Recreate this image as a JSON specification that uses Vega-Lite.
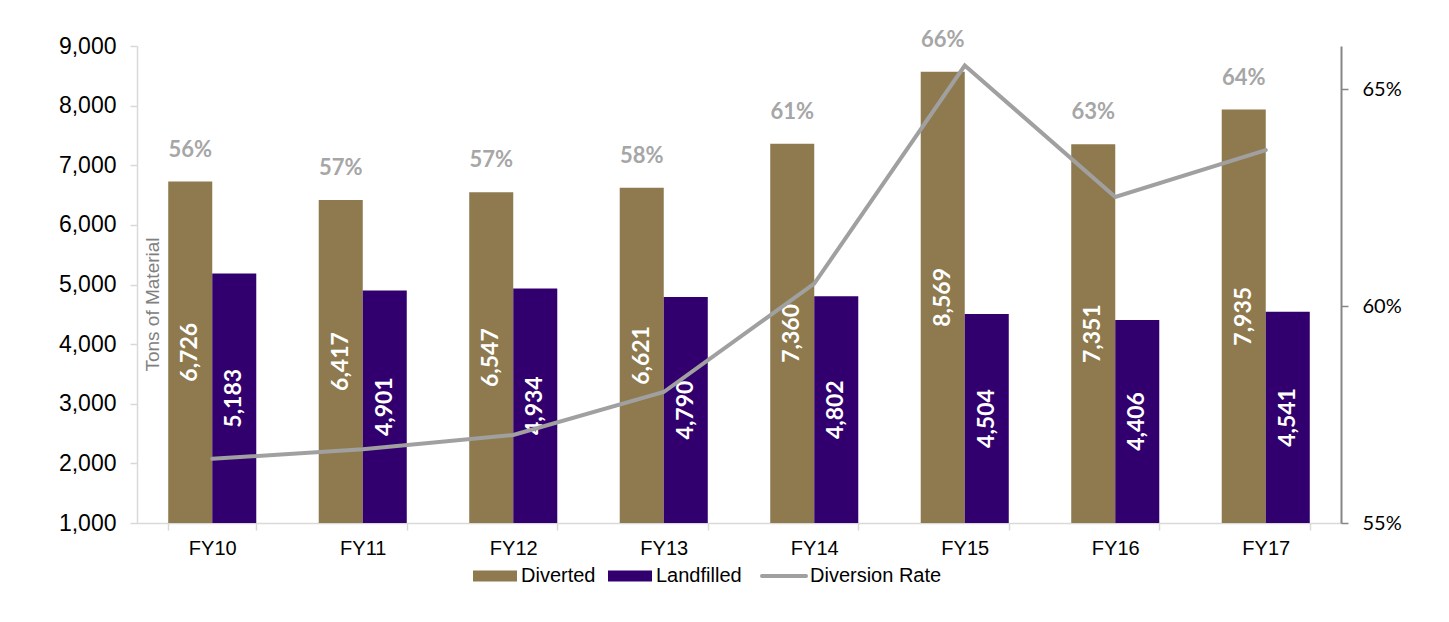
{
  "$schema": "https://vega.github.io/schema/vega-lite/v6.json",
  "autosize": {"type": "none"},
  "width": 1204,
  "height": 477,
  "padding": {"left": 137, "top": 46, "right": 108, "bottom": 99},
  "background": "white",
  "config": {
    "view": {"stroke": null},
    "font": "Liberation Sans",
    "axis": {"grid": false}
  },
  "data": {
    "values": [
      {"year": "FY10", "Diverted": 6726, "Landfilled": 5183, "rate": 0.5648},
      {"year": "FY11", "Diverted": 6417, "Landfilled": 4901, "rate": 0.5670},
      {"year": "FY12", "Diverted": 6547, "Landfilled": 4934, "rate": 0.5703},
      {"year": "FY13", "Diverted": 6621, "Landfilled": 4790, "rate": 0.5802},
      {"year": "FY14", "Diverted": 7360, "Landfilled": 4802, "rate": 0.6052},
      {"year": "FY15", "Diverted": 8569, "Landfilled": 4504, "rate": 0.6555},
      {"year": "FY16", "Diverted": 7351, "Landfilled": 4406, "rate": 0.6252},
      {"year": "FY17", "Diverted": 7935, "Landfilled": 4541, "rate": 0.6360}
    ]
  },
  "encoding": {
    "x": {
      "field": "year",
      "type": "nominal",
      "sort": null,
      "scale": {"paddingInner": 0.415, "paddingOuter": 0.2075},
      "axis": {
        "title": null,
        "labelAngle": 0,
        "labelFont": "Liberation Sans",
        "labelFontSize": 20,
        "labelColor": "black",
        "labelPadding": 8,
        "domainColor": "#d9d9d9",
        "domainWidth": 1.5,
        "tickColor": "#d9d9d9",
        "tickWidth": 1.5,
        "tickSize": 7,
        "tickBand": "extent"
      }
    }
  },
  "layer": [
    {
      "layer": [
        {
          "transform": [{"fold": ["Diverted", "Landfilled"], "as": ["type", "tons"]}],
          "mark": {"type": "bar"},
          "encoding": {
            "xOffset": {"field": "type", "type": "nominal", "scale": {"domain": ["Diverted", "Landfilled"], "paddingInner": 0, "paddingOuter": 0}},
            "y": {
              "field": "tons",
              "type": "quantitative",
              "scale": {"domain": [1000, 9000], "zero": false, "nice": false},
              "axis": {
                "title": "Tons of Material",
                "titleFont": "Liberation Sans",
                "titleFontSize": 19,
                "titleFontWeight": "normal",
                "titleColor": "#808080",
                "titleAngle": -90,
                "titleX": 15,
                "titleY": 258,
                "titleAlign": "center",
                "titleBaseline": "middle",
                "values": [1000, 2000, 3000, 4000, 5000, 6000, 7000, 8000, 9000],
                "format": ",.0f",
                "labelFont": "Liberation Sans",
                "labelFontSize": 23,
                "labelColor": "black",
                "labelPadding": 14,
                "domainColor": "#d9d9d9",
                "domainWidth": 1.5,
                "tickColor": "#d9d9d9",
                "tickWidth": 1.5,
                "tickSize": 7
              }
            },
            "y2": {"datum": 1000},
            "color": {
              "field": "type",
              "type": "nominal",
              "scale": {
                "domain": ["Diverted", "Landfilled", "Diversion Rate"],
                "range": ["#8e7a4e", "#32006e", "#a0a0a0"]
              },
              "legend": {
                "title": null,
                "orient": "none",
                "legendX": 336,
                "legendY": 520,
                "direction": "horizontal",
                "padding": 0,
                "labelFont": "Liberation Sans",
                "labelFontSize": 20,
                "labelColor": "black",
                "labelOffset": 28,
                "columnPadding": 12,
                "symbolSize": 1936,
                "encode": {
                  "symbols": {
                    "update": {
                      "shape": {"signal": "datum.value === 'Diversion Rate' ? 'M-0.4545,0H1.5455' : 'M-0.4545,-0.25H1.5455V0.25H-0.4545Z'"},
                      "fill": {"signal": "datum.value === 'Diversion Rate' ? 'transparent' : scale('color', datum.value)"},
                      "stroke": {"signal": "scale('color', datum.value)"},
                      "strokeWidth": {"signal": "datum.value === 'Diversion Rate' ? 4 : 0"},
                      "strokeCap": {"value": "round"},
                      "fillOpacity": {"value": 1},
                      "opacity": {"value": 1}
                    }
                  }
                }
              }
            }
          }
        },
        {
          "transform": [
            {"fold": ["Diverted", "Landfilled"], "as": ["type", "tons"]},
            {"calculate": "(datum.tons + 1000) / 2", "as": "labelMid"}
          ],
          "mark": {"type": "text", "angle": 270, "font": "Lato", "fontSize": 23, "fontWeight": "bold", "color": "white", "align": "center", "baseline": "middle", "limit": 0},
          "encoding": {
            "xOffset": {"field": "type", "type": "nominal"},
            "y": {"field": "labelMid", "type": "quantitative"},
            "text": {"field": "tons", "type": "quantitative", "format": ","}
          }
        },
        {
          "mark": {"type": "text", "font": "Lato", "fontSize": 22, "fontWeight": "bold", "color": "#a6a6a6", "align": "center", "baseline": "middle", "dx": -22, "dy": -32},
          "encoding": {
            "y": {"field": "Diverted", "type": "quantitative"},
            "text": {"field": "rate", "type": "quantitative", "format": ".0%"}
          }
        }
      ]
    },
    {
      "mark": {"type": "line", "strokeWidth": 4, "strokeCap": "round", "strokeJoin": "miter"},
      "encoding": {
        "y": {
          "field": "rate",
          "type": "quantitative",
          "scale": {"domain": [0.55, 0.66], "zero": false, "nice": false},
          "axis": {
            "orient": "right",
            "title": null,
            "values": [0.55, 0.6, 0.65],
            "format": ".0%",
            "labelFont": "Lato",
            "labelFontSize": 20,
            "labelColor": "black",
            "labelPadding": 14,
            "domainColor": "#868686",
            "domainWidth": 2,
            "tickColor": "#868686",
            "tickWidth": 1.5,
            "tickSize": 7
          }
        },
        "color": {"datum": "Diversion Rate", "type": "nominal"}
      }
    }
  ],
  "resolve": {"scale": {"y": "independent"}}
}
